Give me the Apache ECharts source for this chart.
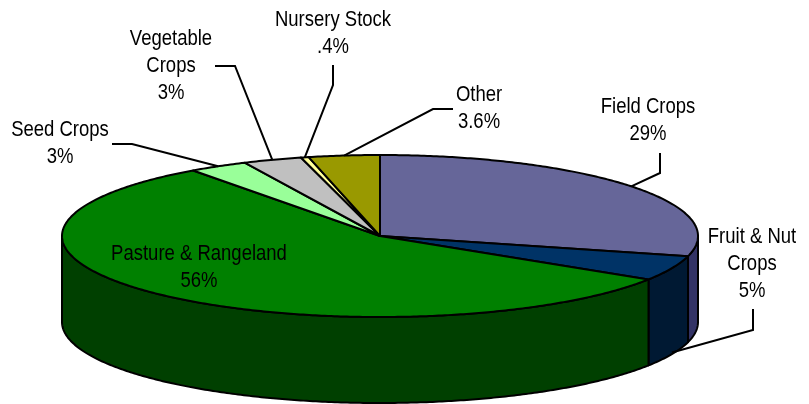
<!DOCTYPE html>
<html>
<head>
<meta charset="utf-8">
<script src="https://cdn.jsdelivr.net/npm/echarts@6/dist/echarts.min.js"></script>
<style>
  html, body { margin: 0; padding: 0; background: #fff; }
  #chart { width: 809px; height: 404px; }
</style>
</head>
<body>
<div id="chart"></div>
<script>
// slices, clockwise from 12 o'clock
const names = ['Field Crops', 'Fruit & Nut\nCrops', 'Pasture & Rangeland', 'Seed Crops', 'Vegetable\nCrops', 'Nursery Stock', 'Other'];
const values = [29, 5, 56, 3, 3, 0.4, 3.6];

const topColors = ['#666699', '#003366', '#008000', '#99FF99', '#C0C0C0', '#FFFF99', '#999900'];
const sideColors = ['#333366', '#001933', '#004000', '#4d804d', '#606060', '#80804d', '#4d4d00'];

// ellipse geometry
const cx = 380, cy = 236, rx = 318, ry = 81, depth = 86;

// label layout: text anchor (center x, top y), elbow points, leader end on rim or side
const labelLayout = [
  { x: 648, y: 94,  elbow: [[660, 153], [660, 173]], side: false },
  { x: 752, y: 224, elbow: [[753, 309], [753, 330]], side: true },
  { x: 199, y: 241, elbow: null },
  { x: 60,  y: 117, elbow: [[112, 144], [132, 144]], side: false },
  { x: 171, y: 26,  elbow: [[215, 66], [235, 66]], side: false },
  { x: 333, y: 7,   elbow: [[333, 65], [333, 85]], side: false },
  { x: 479, y: 82,  elbow: [[453, 109], [433, 109]], side: false }
];

const total = values.reduce((s, v) => s + v, 0);

function pct(v) {
  return String(v).replace(/^0\./, '.') + '%';
}

function pt(t, dy) {
  return [cx + rx * Math.sin(t), cy - ry * Math.cos(t) + (dy || 0)];
}

function arc(a, b, dy) {
  const pts = [];
  const n = Math.max(2, Math.ceil((b - a) / 0.01));
  for (let k = 0; k <= n; k++) pts.push(pt(a + (b - a) * k / n, dy));
  return pts;
}

function renderItem(params, api) {
  const i = params.dataIndex;
  let start = 0;
  for (let j = 0; j < i; j++) start += values[j];
  const v = api.value(0);
  const a0 = start / total * Math.PI * 2;
  const a1 = (start + v) / total * Math.PI * 2;
  const children = [];

  // front wall
  const lo = Math.max(a0, Math.PI / 2), hi = Math.min(a1, Math.PI * 1.5);
  if (lo < hi) {
    const pts = arc(lo, hi, 0).concat(arc(lo, hi, depth).reverse());
    children.push({
      type: 'polygon', z2: 1,
      shape: { points: pts },
      style: { fill: sideColors[i], stroke: '#000', lineWidth: 2, lineJoin: 'round' }
    });
  }

  // top face
  children.push({
    type: 'polygon', z2: 10,
    shape: { points: [[cx, cy]].concat(arc(a0, a1, 0)) },
    style: { fill: topColors[i], stroke: '#000', lineWidth: 2, lineJoin: 'round' }
  });

  // label + leader
  const lay = labelLayout[i];
  if (lay.elbow) {
    const mid = (a0 + a1) / 2;
    const end = pt(mid, lay.side ? depth * 0.98 : 0);
    children.push({
      type: 'polyline', z2: 20,
      shape: { points: lay.elbow.concat([end]) },
      style: { fill: null, stroke: '#000', lineWidth: 2 }
    });
  }
  // narrow-looking label: regular sans squeezed horizontally
  children.push({
    type: 'text', z2: 30, x: lay.x, y: lay.y, scaleX: 0.86,
    style: {
      text: names[i] + '\n' + pct(v),
      fill: '#000',
      font: '21.5px "Liberation Sans", Arial, sans-serif',
      align: 'center', verticalAlign: 'top', lineHeight: 27
    }
  });

  return { type: 'group', children: children };
}

const chart = echarts.init(document.getElementById('chart'));
chart.setOption({
  animation: false,
  series: [{
    type: 'custom',
    coordinateSystem: 'none',
    renderItem: renderItem,
    data: values.map((v, i) => ({ name: names[i], value: [v] }))
  }]
});
</script>
</body>
</html>
